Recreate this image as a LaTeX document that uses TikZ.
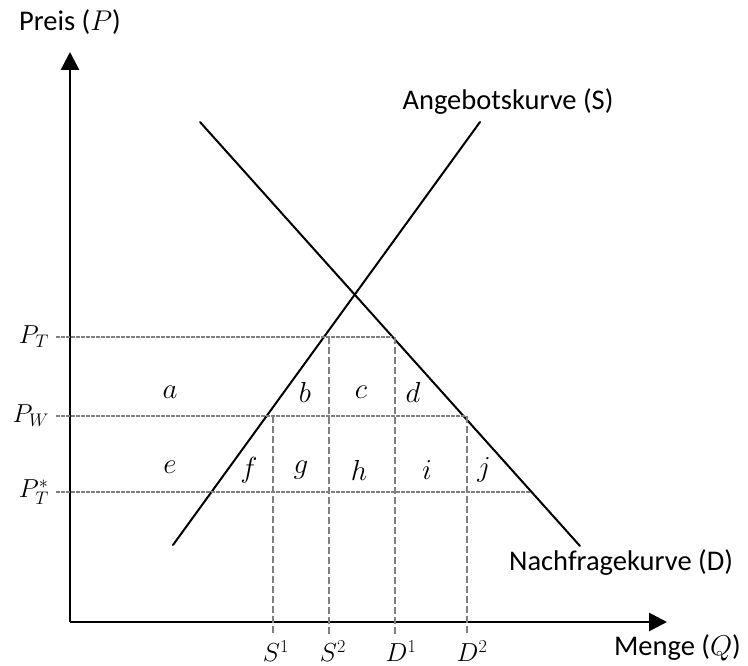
\RequirePackage{fix-cm}
\documentclass[tikz,border=0pt]{standalone}
\usepackage{fontspec}
\setmainfont{Carlito}
\usetikzlibrary{arrows.meta}
\begin{document}
\begin{tikzpicture}[x=1pt,y=-1pt,
  axis/.style={line width=2.8pt,-{Triangle[length=18pt,width=18pt]}},
  curve/.style={line width=2pt,line cap=round},
  hdash/.style={draw=gray,line width=1.6pt,dash pattern=on 3.5pt off 1.5pt},
  vdash/.style={draw=gray,line width=1.6pt,dash pattern=on 7pt off 3pt},
  lbl/.style={font=\fontsize{28.5}{33}\selectfont,inner sep=0pt},
  mlbl/.style={font=\fontsize{26}{31}\selectfont,inner sep=0pt},
  area/.style={font=\fontsize{29}{34}\selectfont,inner sep=0pt}]
\useasboundingbox (0,0) rectangle (748,666);
% axes
\coordinate (O) at (70,622);
\coordinate (Ytop) at (70,52);
\coordinate (Xend) at (667,622);
\draw[axis] (O) -- (Ytop);
\draw[axis] (O) -- (Xend);
% curves
\coordinate (S0) at (173,545);
\coordinate (S1c) at (480,122);
\coordinate (D0) at (200,122);
\coordinate (D1c) at (580,546);
\draw[curve] (S0) -- (S1c);
\draw[curve] (D0) -- (D1c);
% dashed levels
\coordinate (pt0) at (56,337);
\coordinate (pt1) at (392,337);
\coordinate (pw0) at (56,416);
\coordinate (pw1) at (466,416);
\coordinate (ps0) at (56,492);
\coordinate (ps1) at (531,492);
\draw[hdash] (pt0) -- (pt1);
\draw[hdash] (pw0) -- (pw1);
\draw[hdash] (ps0) -- (ps1);
% vertical dashed
\coordinate (s1t) at (273,416);
\coordinate (s1b) at (273,636);
\coordinate (s2t) at (329,337);
\coordinate (s2b) at (329,636);
\coordinate (d1t) at (395,337);
\coordinate (d1b) at (395,636);
\coordinate (d2t) at (467,416);
\coordinate (d2b) at (467,636);
\draw[vdash] (s1t) -- (s1b);
\draw[vdash] (s2t) -- (s2b);
\draw[vdash] (d1t) -- (d1b);
\draw[vdash] (d2t) -- (d2b);
% axis labels
\node[lbl] (ylab) at (70,22) {Preis (\(P\))};
\node[lbl,anchor=east] (xlab) at (741,648) {Menge (\(Q\))};
\node[lbl] (slab) at (508,102) {Angebotskurve (S)};
\node[lbl] (dlab) at (621,563) {Nachfragekurve (D)};
% price labels
\node[mlbl,anchor=east] (lPT) at (49,337) {\(P_T\)};
\node[mlbl,anchor=east] (lPW) at (49,416) {\(P_W\)};
\node[mlbl,anchor=east] (lPS) at (49,492) {\(P_T^*\)};
% quantity labels
\node[mlbl] (lS1) at (276,651) {\(S^1\)};
\node[mlbl] (lS2) at (333,651) {\(S^2\)};
\node[mlbl] (lD1) at (401,651) {\(D^1\)};
\node[mlbl] (lD2) at (472,651) {\(D^2\)};
% area labels
\node[area] (a) at (170,392) {\(a\)};
\node[area] (b) at (305,392) {\(b\)};
\node[area] (c) at (361,392) {\(c\)};
\node[area] (d) at (413,392) {\(d\)};
\node[area] (e) at (170,467) {\(e\)};
\node[area] (f) at (249,470) {\(f\)};
\node[area] (g) at (301,470) {\(g\)};
\node[area] (h) at (359,470) {\(h\)};
\node[area] (i) at (427,470) {\(i\)};
\node[area] (j) at (484,470) {\(j\)};
\end{tikzpicture}
\end{document}
